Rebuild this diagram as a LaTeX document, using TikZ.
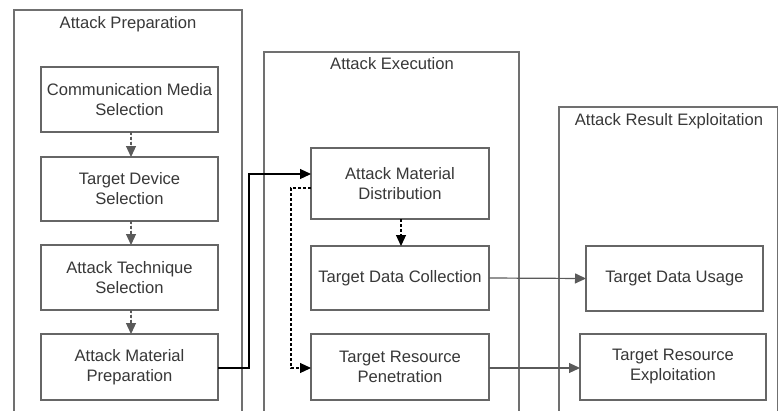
\documentclass[tikz,border=0pt]{standalone}
\usepackage{fontspec}
\setmainfont{Liberation Sans}
\usetikzlibrary{arrows.meta}
\definecolor{framegray}{HTML}{707070}
\definecolor{boxgray}{HTML}{666666}
\definecolor{txtgray}{HTML}{383838}
\definecolor{flowgray}{HTML}{5A5A5A}
\tikzset{
  stagebox/.style={draw=boxgray, line width=1.3pt, fill=white, inner sep=0pt, outer sep=0pt,
    align=center, text=txtgray, font=\fontsize{16.6}{20}\selectfont},
  frameline/.style={draw=framegray, line width=1.1pt},
  frametitle/.style={text=txtgray, font=\fontsize{16.6}{20}\selectfont, inner sep=0pt},
  tip/.style={-{Triangle[length=11pt,width=10pt]}},
  prepflow/.style={tip, draw=flowgray, fill=flowgray, line width=1.2pt, dash pattern=on 3pt off 2pt},
  execflow/.style={tip, draw=black, line width=1.2pt},
  execdot/.style={tip, draw=black, line width=1.2pt, dash pattern=on 3pt off 2pt},
  resultflow/.style={tip, draw=flowgray, line width=1.2pt}
}
\begin{document}
\begin{tikzpicture}[x=1pt, y=-1pt]
\useasboundingbox (0,0) rectangle (778,410);

% stage frames, open at the bottom
\draw[frameline] (14,415) -- (14,10) -- (242,10) -- (242,415);
\draw[frameline] (264,415) -- (264,52) -- (519,52) -- (519,415);
\draw[frameline] (559,415) -- (559,107) -- (777.5,107) -- (777.5,415);

\node[frametitle] (tprep) at (128,24) {Attack Preparation};
\node[frametitle] (texec) at (392,64) {Attack Execution};
\node[frametitle] (tres)  at (669,121) {Attack Result Exploitation};

% preparation steps
\node[stagebox, minimum width=177pt, minimum height=65pt] (cms) at (129.5,99.5) {Communication Media\\Selection};
\node[stagebox, minimum width=177pt, minimum height=64pt] (tds) at (129.5,189) {Target Device\\Selection};
\node[stagebox, minimum width=177pt, minimum height=65pt] (ats) at (129.5,277.5) {Attack Technique\\Selection};
\node[stagebox, minimum width=177pt, minimum height=66pt] (amp) at (129.5,367) {Attack Material\\Preparation};

% execution steps
\node[stagebox, minimum width=178pt, minimum height=71pt] (amd) at (400,183.5) {Attack Material\\Distribution};
\node[stagebox, minimum width=178pt, minimum height=64pt] (tdc) at (400,278) {Target Data Collection};
\node[stagebox, minimum width=178pt, minimum height=66pt] (trp) at (400,367) {Target Resource\\Penetration};

% exploitation steps
\node[stagebox, minimum width=177pt, minimum height=65pt] (tdu) at (674.5,278.5) {Target Data Usage};
\node[stagebox, minimum width=186pt, minimum height=66pt] (tre) at (673,367) {Target Resource\\Exploitation};

% routing columns
\coordinate (jprep) at (249,0);
\coordinate (jexec) at (291,0);

% flows
\draw[prepflow] ([xshift=1.5pt]cms.south) -- ([xshift=1.5pt]tds.north);
\draw[prepflow] ([xshift=1.5pt]tds.south) -- ([xshift=1.5pt]ats.north);
\draw[prepflow] ([xshift=1.5pt]ats.south) -- ([xshift=1.5pt]amp.north);

\draw[execflow] ([yshift=-1pt]amp.east) -- ([yshift=-1pt]amp.east -| jprep) |- ([yshift=9.5pt]amd.west);
\draw[execdot] ([yshift=-4.5pt]amd.west) -- ([yshift=-4.5pt]amd.west -| jexec) |- ([yshift=-1pt]trp.west);
\draw[execdot] ([xshift=1pt]amd.south) -- ([xshift=1pt]tdc.north);

\draw[resultflow] (tdc.east) -- (tdu.west);
\draw[resultflow] ([yshift=-1pt]trp.east) -- ([yshift=-1pt]trp.east -| tre.west);
\end{tikzpicture}
\end{document}
